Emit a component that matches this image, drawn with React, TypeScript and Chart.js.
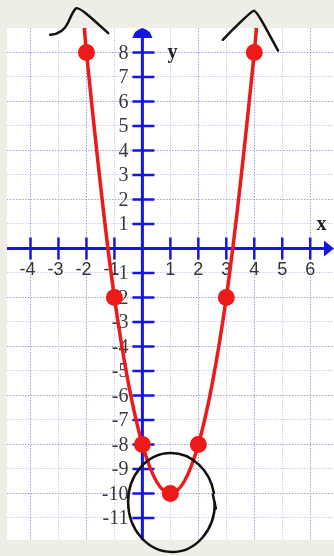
import React, { useEffect, useRef } from "react";
import { Chart, registerables } from "chart.js";

Chart.register(...registerables);

// ---- data ----
const curveX = [-2.08, -2, -1, 0, 1, 2, 3, 4, 4.08];
const curveY = [9, 8, -2, -8, -10, -8, -2, 8, 9];
const pointX = [-2, -1, 0, 1, 2, 3, 4];
const pointY = [8, -2, -8, -10, -8, -2, 8];
const xLabels = [-4, -3, -2, -1, 1, 2, 3, 4, 5, 6];
const yLabels = [8, 7, 6, 5, 4, 3, 2, 1, -1, -2, -3, -4, -5, -6, -7, -8, -9, -10, -11];
const xRange = [-4.84, 6.85];
const yRange = [-11.9, 9.0];
// hand-drawn marks, in data units
const leftHatX = [-3.3, -2.83, -2.47, -2.29, -1.22];
const leftHatY = [8.72, 8.76, 9.71, 9.88, 8.79];
const rightHatX = [2.875, 3.9, 4.08, 4.85];
const rightHatY = [8.52, 9.71, 9.69, 8.08];
const ringCenter = [1.04, -10.37];
const ringRadius = [1.55, 2.02];

const BEIGE = "#eeede6";
const BLUE = "#1515e4";
const RED = "#ee1a1a";

function drawSmooth(ctx: CanvasRenderingContext2D, pts: number[][]) {
  ctx.beginPath();
  ctx.moveTo(pts[0][0], pts[0][1]);
  for (let i = 1; i < pts.length - 1; i++) {
    const mx = (pts[i][0] + pts[i + 1][0]) / 2;
    const my = (pts[i][1] + pts[i + 1][1]) / 2;
    ctx.quadraticCurveTo(pts[i][0], pts[i][1], mx, my);
  }
  const last = pts[pts.length - 1];
  ctx.lineTo(last[0], last[1]);
  ctx.stroke();
}

const decorPlugin = {
  id: "decor",
  beforeDraw(chart: any) {
    const { ctx, chartArea, width, height } = chart;
    ctx.save();
    ctx.fillStyle = BEIGE;
    ctx.fillRect(0, 0, width, height);
    ctx.fillStyle = "#ffffff";
    ctx.fillRect(chartArea.left, chartArea.top, chartArea.right - chartArea.left, chartArea.bottom - chartArea.top);
    ctx.restore();
  },
  beforeDatasetsDraw(chart: any) {
    const { ctx, chartArea, scales } = chart;
    const xs = scales.x;
    const ys = scales.y;
    const ax = xs.getPixelForValue(0);
    const ay = ys.getPixelForValue(0);
    ctx.save();
    // tick labels
    ctx.fillStyle = "#333333";
    ctx.textBaseline = "middle";
    ctx.textAlign = "center";
    ctx.font = "18px 'Liberation Sans', sans-serif";
    xLabels.forEach((v) => {
      ctx.fillText(String(v), xs.getPixelForValue(v) - (v < 0 ? 3 : 0), ay + 22);
    });
    ctx.textAlign = "right";
    ctx.font = "20px 'Liberation Serif', serif";
    ctx.fillStyle = "#3a3a3a";
    yLabels.forEach((v) => {
      ctx.fillText(String(v), ax - 14, ys.getPixelForValue(v) + 1);
    });

    ctx.strokeStyle = BLUE;
    ctx.fillStyle = BLUE;
    // axes lines
    ctx.lineWidth = 3;
    ctx.beginPath();
    ctx.moveTo(chartArea.left, ay);
    ctx.lineTo(chartArea.right - 6, ay);
    ctx.moveTo(ax, chartArea.bottom);
    ctx.lineTo(ax, chartArea.top + 6);
    ctx.stroke();
    // arrows
    ctx.beginPath();
    ctx.moveTo(chartArea.right, ay);
    ctx.lineTo(chartArea.right - 10, ay - 8);
    ctx.lineTo(chartArea.right - 10, ay + 8);
    ctx.closePath();
    ctx.fill();
    ctx.beginPath();
    ctx.moveTo(ax, chartArea.top);
    ctx.quadraticCurveTo(ax + 8, chartArea.top + 2, ax + 10, chartArea.top + 10);
    ctx.lineTo(ax - 10, chartArea.top + 10);
    ctx.quadraticCurveTo(ax - 8, chartArea.top + 2, ax, chartArea.top);
    ctx.closePath();
    ctx.fill();
    // tick marks
    ctx.lineWidth = 2.5;
    ctx.beginPath();
    xLabels.forEach((v) => {
      const px = xs.getPixelForValue(v);
      ctx.moveTo(px, ay - 11);
      ctx.lineTo(px, ay + 11);
    });
    yLabels.forEach((v) => {
      const py = ys.getPixelForValue(v);
      ctx.moveTo(ax - 10, py);
      ctx.lineTo(ax + 12, py);
    });
    ctx.stroke();
    // axis names
    ctx.fillStyle = "#222222";
    ctx.font = "bold 20px 'Liberation Serif', serif";
    ctx.textAlign = "center";
    ctx.textBaseline = "middle";
    ctx.fillText("y", ax + 30, ys.getPixelForValue(8));
    ctx.fillText("x", xs.getPixelForValue(6.4), ys.getPixelForValue(0.95));
    ctx.restore();
  },
  afterDatasetsDraw(chart: any) {
    const { ctx, scales } = chart;
    const xs = scales.x;
    const ys = scales.y;
    const toPx = (X: number[], Y: number[]) => X.map((v, i) => [xs.getPixelForValue(v), ys.getPixelForValue(Y[i])]);
    ctx.save();
    ctx.strokeStyle = "#111111";
    ctx.lineWidth = 2.5;
    ctx.lineCap = "round";
    ctx.lineJoin = "round";
    drawSmooth(ctx, toPx(leftHatX, leftHatY));
    drawSmooth(ctx, toPx(rightHatX, rightHatY));
    const cx = xs.getPixelForValue(ringCenter[0]);
    const cy = ys.getPixelForValue(ringCenter[1]);
    const rx = Math.abs(xs.getPixelForValue(ringCenter[0] + ringRadius[0]) - cx);
    const ry = Math.abs(ys.getPixelForValue(ringCenter[1] + ringRadius[1]) - cy);
    ctx.beginPath();
    ctx.ellipse(cx, cy, rx, ry, -0.05, 0.05, Math.PI * 2 - 0.15);
    ctx.stroke();
    ctx.beginPath();
    ctx.moveTo(cx + rx - 2, cy - 8);
    ctx.lineTo(cx + rx + 1, cy + 6);
    ctx.stroke();
    ctx.restore();
  },
};

const gridColor = (c: any) =>
  Math.abs(c.tick?.value) % 2 === 0 ? "rgba(120,120,215,0.7)" : "rgba(150,150,220,0.5)";

export default function App() {
  const ref = useRef<HTMLCanvasElement | null>(null);
  useEffect(() => {
    if (!ref.current) return;
    const chart = new Chart(ref.current, {
      type: "scatter",
      data: {
        datasets: [
          {
            data: pointX.map((x, i) => ({ x, y: pointY[i] })),
            pointRadius: 8.5,
            pointHoverRadius: 8.5,
            backgroundColor: RED,
            borderWidth: 0,
            showLine: false,
            clip: false,
          } as any,
          {
            data: curveX.map((x, i) => ({ x, y: curveY[i] })),
            showLine: true,
            borderColor: RED,
            borderWidth: 3.5,
            pointRadius: 0,
            tension: 0.4,
            cubicInterpolationMode: "monotone",
            clip: false,
          } as any,
        ],
      },
      options: {
        animation: false,
        responsive: false,
        events: [],
        layout: { autoPadding: false, padding: { left: 7, top: 28, right: 0, bottom: 16 } },
        plugins: { legend: { display: false }, tooltip: { enabled: false } },
        scales: {
          x: {
            type: "linear",
            min: xRange[0],
            max: xRange[1],
            border: { display: false, dash: [1.5, 1.5] },
            grid: { drawTicks: false, lineWidth: 1, color: gridColor },
            ticks: { display: false },
            afterBuildTicks: (s: any) => {
              s.ticks = [...xLabels, 0].sort((a, b) => a - b).map((value) => ({ value }));
            },
          },
          y: {
            type: "linear",
            min: yRange[0],
            max: yRange[1],
            border: { display: false, dash: [1.5, 1.5] },
            grid: { drawTicks: false, lineWidth: 1, color: gridColor },
            ticks: { display: false },
            afterBuildTicks: (s: any) => {
              s.ticks = [...yLabels, 0].sort((a, b) => a - b).map((value) => ({ value }));
            },
          },
        },
      },
      plugins: [decorPlugin],
    });
    return () => chart.destroy();
  }, []);
  return (
    <div style={{ position: "fixed", left: 0, top: 0, width: 334, height: 556, background: BEIGE }}>
      <canvas ref={ref} width={334} height={556} style={{ display: "block" }} />
    </div>
  );
}
